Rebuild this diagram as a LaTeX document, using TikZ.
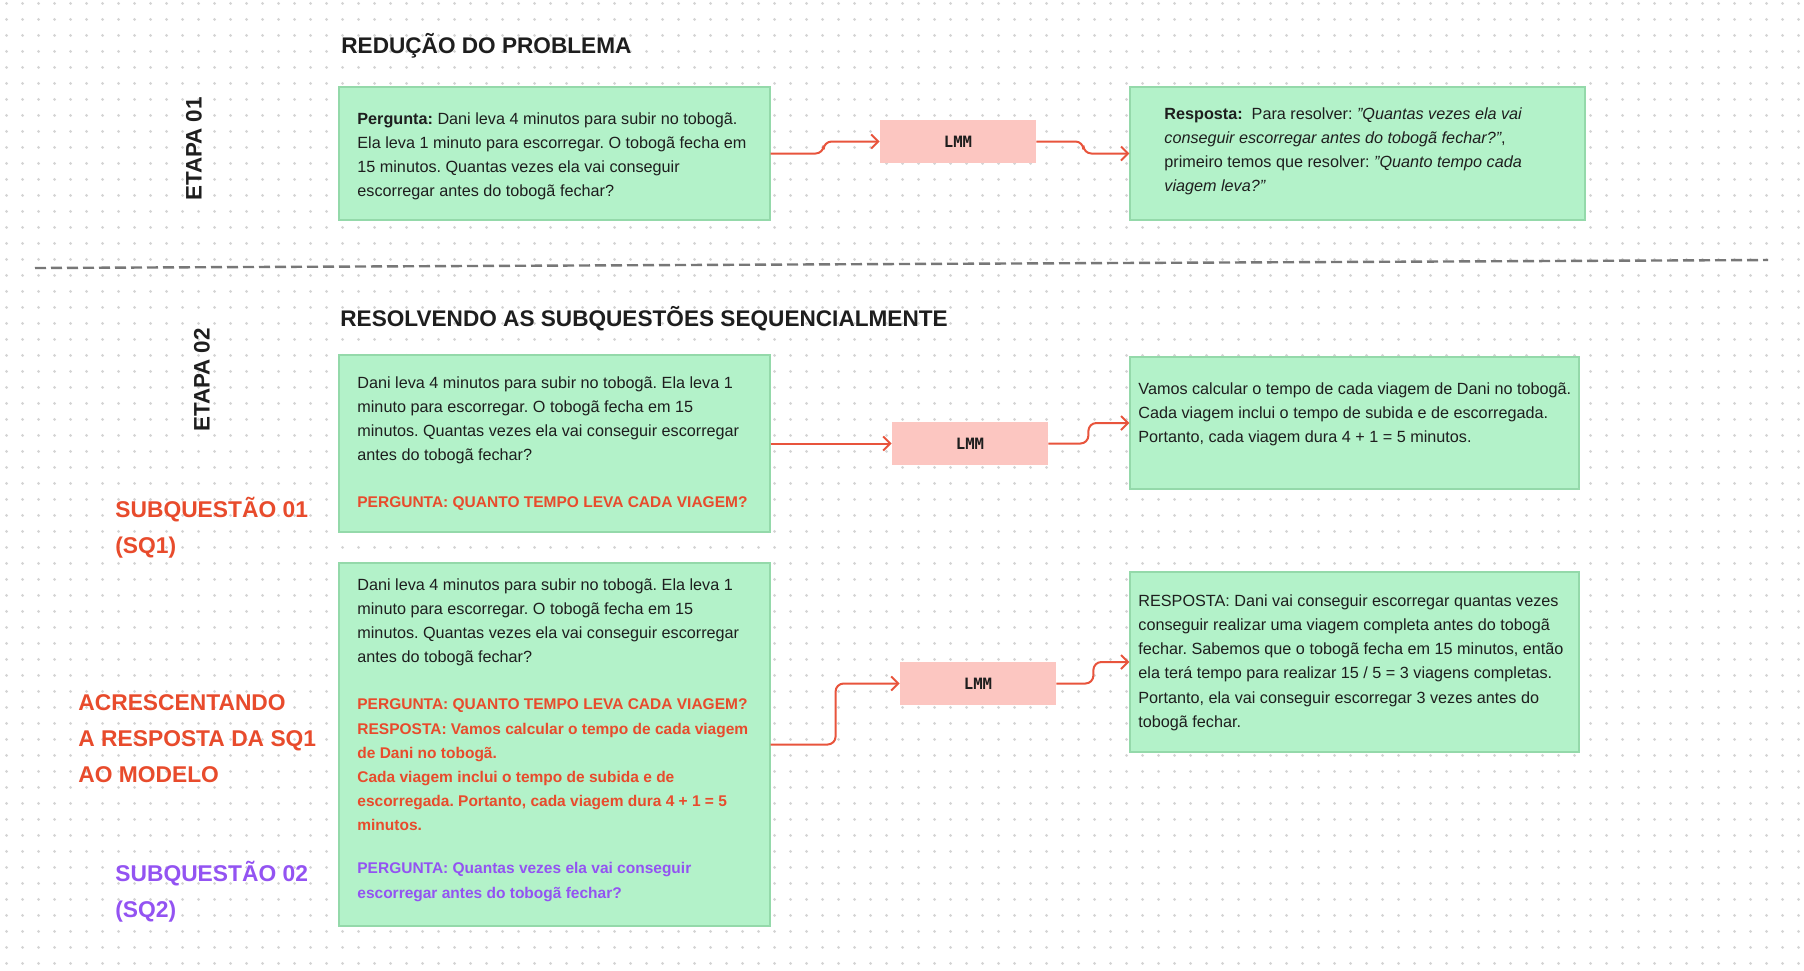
\documentclass[tikz,border=0pt]{standalone}
\usepackage{fontspec}
\setmainfont{Liberation Sans}
\newfontfamily\lmmfont{DejaVu Sans Mono}
\usetikzlibrary{arrows.meta,calc,patterns}
\definecolor{boxgreen}{HTML}{B3F2C9}
\definecolor{boxedge}{HTML}{94D9AA}
\definecolor{lmmpink}{HTML}{FCC6C1}
\definecolor{accent}{HTML}{E84B2C}
\definecolor{connc}{HTML}{E8543C}
\definecolor{purp}{HTML}{9353F2}
\definecolor{ink}{HTML}{1E1E1E}
\definecolor{dotc}{HTML}{D4D4D4}
\definecolor{dashc}{HTML}{777777}
\pgfdeclarepatternformonly{griddots}{\pgfpointorigin}{\pgfpoint{8pt}{8pt}}{\pgfpoint{8pt}{8pt}}{%
  \pgfpathcircle{\pgfpoint{4pt}{4pt}}{0.8pt}\pgfusepath{fill}}
\newcommand{\redb}[1]{\textcolor{accent}{\fontsize{7.75}{12.1}\selectfont\bfseries #1}}
\newcommand{\purb}[1]{\textcolor{purp}{\fontsize{7.75}{12.1}\selectfont\bfseries #1}}
\begin{document}
\frenchspacing
\begin{tikzpicture}[x=0.5pt,y=-0.5pt,
  gbox/.style={draw=boxedge,line width=0.6pt,fill=boxgreen,inner sep=0pt},
  lmmbox/.style={fill=lmmpink,inner sep=0pt,minimum width=78pt,minimum height=21.5pt,
     font=\lmmfont\bfseries\fontsize{7.8}{9}\selectfont,text=ink},
  conn/.style={draw=connc,line width=1pt,rounded corners=4pt,
     -{Straight Barb[length=3.5pt,width=7pt,line width=1pt]}},
  bodytext/.style={anchor=north west,inner sep=0pt,align=left,text=ink,
     font=\frenchspacing\fontsize{8.1}{12.1}\selectfont},
  titletext/.style={anchor=base west,inner sep=0pt,text=ink,
     font=\bfseries\fontsize{11.3}{13}\selectfont},
  etapa/.style={rotate=90,inner sep=0pt,text=ink,
     font=\bfseries\fontsize{11.2}{13}\selectfont},
  sidelabel/.style={anchor=north west,inner sep=0pt,align=left,
     font=\bfseries\fontsize{11.4}{18}\selectfont},
]
\useasboundingbox (0,0) rectangle (1804,970);
\fill[white] (0,0) rectangle (1804,970);
% dot grid
\fill[pattern=griddots,pattern color=dotc] (0,0) rectangle (1804,970);
% separator
\draw[dashc,line width=1.2pt,dash pattern=on 5.5pt off 2.5pt] (35,268) -- (1768,260);

% titles and stage labels
\node[titletext] (t1) at (341,53) {REDUÇÃO DO PROBLEMA};
\node[titletext] (t2) at (340,326) {RESOLVENDO AS SUBQUESTÕES SEQUENCIALMENTE};
\node[etapa] (e1) at (194,149) {ETAPA 01};
\node[etapa] (e2) at (202,380) {ETAPA 02};

% side labels
\node[sidelabel,text=accent] (s1) at (115,492) {\strut SUBQUESTÃO 01\\(SQ1)};
\node[sidelabel,text=accent] (s2) at (78,685) {\strut ACRESCENTANDO\\A RESPOSTA DA SQ1\\AO MODELO};
\node[sidelabel,text=purp] (s3) at (115,856) {\strut SUBQUESTÃO 02\\(SQ2)};

% boxes
\node[gbox,minimum width=215.5pt,minimum height=66.5pt] (b1) at (554.5,153.5) {};
\node[gbox,minimum width=227.5pt,minimum height=66.5pt] (b2) at (1357.5,153.5) {};
\node[gbox,minimum width=215.5pt,minimum height=88.5pt] (b3) at (554.5,443.5) {};
\node[gbox,minimum width=224.5pt,minimum height=66pt] (b4) at (1354.5,423) {};
\node[gbox,minimum width=215.5pt,minimum height=181.5pt] (b5) at (554.5,744.5) {};
\node[gbox,minimum width=224.5pt,minimum height=90pt] (b6) at (1354.5,662) {};

\node[lmmbox] (l1) at (958,141.5) {LMM};
\node[lmmbox] (l2) at (970,443.5) {LMM};
\node[lmmbox] (l3) at (978,683.5) {LMM};

% box texts
\node[bodytext] (x1) at (357,107) {\strut\textbf{Pergunta:} Dani leva 4 minutos para subir no tobogã.\\
Ela leva 1 minuto para escorregar. O tobogã fecha em\\
15 minutos. Quantas vezes ela vai conseguir\\
escorregar antes do tobogã fechar?};

\node[bodytext] (x2) at (1164,102) {\strut\textbf{Resposta:}\ \ Para resolver: \textit{"Quantas vezes ela vai}\\
\textit{conseguir escorregar antes do tobogã fechar?"},\\
primeiro temos que resolver: \textit{"Quanto tempo cada}\\
\textit{viagem leva?"}};

\node[bodytext] (x3) at (357,371) {\strut Dani leva 4 minutos para subir no tobogã. Ela leva 1\\
minuto para escorregar. O tobogã fecha em 15\\
minutos. Quantas vezes ela vai conseguir escorregar\\
antes do tobogã fechar?\\[11.4pt]
\redb{PERGUNTA: QUANTO TEMPO LEVA CADA VIAGEM?}};

\node[bodytext] (x4) at (1138,377) {\strut Vamos calcular o tempo de cada viagem de Dani no tobogã.\\
Cada viagem inclui o tempo de subida e de escorregada.\\
Portanto, cada viagem dura 4 + 1 = 5 minutos.};

\node[bodytext] (x5) at (357,573) {\strut Dani leva 4 minutos para subir no tobogã. Ela leva 1\\
minuto para escorregar. O tobogã fecha em 15\\
minutos. Quantas vezes ela vai conseguir escorregar\\
antes do tobogã fechar?\\[11.4pt]
\redb{PERGUNTA: QUANTO TEMPO LEVA CADA VIAGEM?}\\
\redb{RESPOSTA: Vamos calcular o tempo de cada viagem}\\
\redb{de Dani no tobogã.}\\
\redb{Cada viagem inclui o tempo de subida e de}\\
\redb{escorregada. Portanto, cada viagem dura 4 + 1 = 5}\\
\redb{minutos.}\\[9.4pt]
\purb{PERGUNTA: Quantas vezes ela vai conseguir}\\
\purb{escorregar antes do tobogã fechar?}};

\node[bodytext] (x6) at (1138,589) {\strut RESPOSTA: Dani vai conseguir escorregar quantas vezes\\
conseguir realizar uma viagem completa antes do tobogã\\
fechar. Sabemos que o tobogã fecha em 15 minutos, então\\
ela terá tempo para realizar 15 / 5 = 3 viagens completas.\\
Portanto, ela vai conseguir escorregar 3 vezes antes do\\
tobogã fechar.};

% connectors
\draw[conn] (b1.east) -- ++(53,0) |- (l1.west);
\draw[conn] (l1.east) -- ++(47,0) |- (b2.west);
\draw[conn] (b3.east) -- (l2.west);
\draw[conn] (l2.east) -- ++(40,0) |- (b4.west);
\draw[conn] (b5.east) -- ++(65,0) |- (l3.west);
\draw[conn] (l3.east) -- ++(37,0) |- (b6.west);
\end{tikzpicture}
\end{document}
